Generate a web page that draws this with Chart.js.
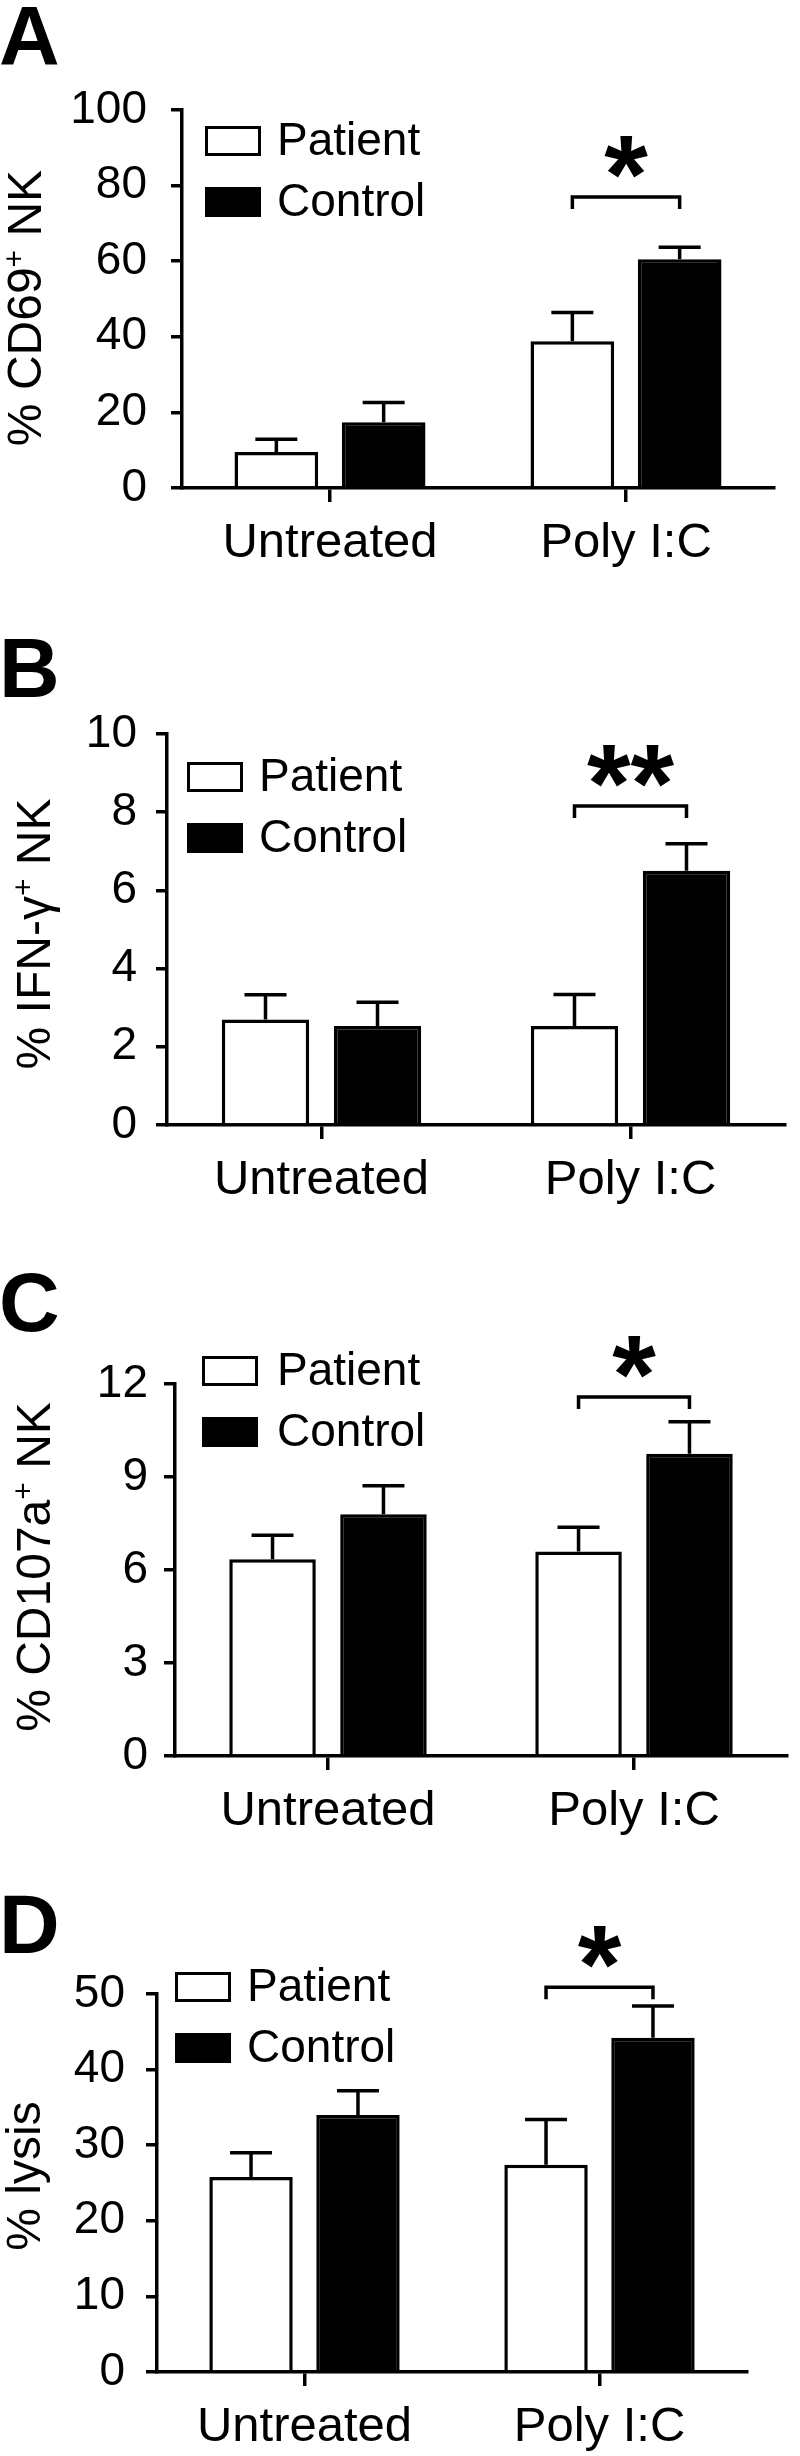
<!DOCTYPE html>
<html>
<head>
<meta charset="utf-8">
<script src="https://cdn.jsdelivr.net/npm/chart.js@4.4.1/dist/chart.umd.min.js"></script>
<style>
  html, body { margin: 0; padding: 0; background: #fff; }
  body { width: 800px; height: 2456px; position: relative; overflow: hidden; }
  .panel { position: absolute; left: 0; width: 800px; }
</style>
</head>
<body>
<div class="panel" style="top:0"><canvas id="chartA" width="800" height="660"></canvas></div>
<div class="panel" style="top:610px"><canvas id="chartB" width="800" height="660"></canvas></div>
<div class="panel" style="top:1220px"><canvas id="chartC" width="800" height="660"></canvas></div>
<div class="panel" style="top:1830px"><canvas id="chartD" width="800" height="626"></canvas></div>
<script>
// data (mean, upper SEM)
const categories = ["Untreated", "Poly I:C"];
const seriesNames = ["Patient", "Control"];

const cd69Patient = [9.5, 38.8];
const cd69PatientSem = [3.4, 7.6];
const cd69Control = [17.4, 60.5];
const cd69ControlSem = [5.2, 3.2];
const cd69Ticks = [0, 20, 40, 60, 80, 100];
const cd69Sig = ["", "*"];
const cd69SigLevel = [0, 77];

const ifngPatient = [2.7, 2.53];
const ifngPatientSem = [0.63, 0.81];
const ifngControl = [2.53, 6.5];
const ifngControlSem = [0.61, 0.69];
const ifngTicks = [0, 2, 4, 6, 8, 10];
const ifngSig = ["", "**"];
const ifngSigLevel = [0, 8.16];

const cd107Patient = [6.35, 6.6];
const cd107PatientSem = [0.77, 0.78];
const cd107Control = [7.8, 9.75];
const cd107ControlSem = [0.92, 1.03];
const cd107Ticks = [0, 3, 6, 9, 12];
const cd107Sig = ["", "*"];
const cd107SigLevel = [0, 11.58];

const lysisPatient = [25.8, 27.4];
const lysisPatientSem = [3.2, 6.0];
const lysisControl = [34.0, 44.2];
const lysisControlSem = [3.2, 4.2];
const lysisTicks = [0, 10, 20, 30, 40, 50];
const lysisSig = ["", "*"];
const lysisSigLevel = [0, 50.9];

const FONT = "'Liberation Sans', Arial, Helvetica, sans-serif";

// layout of each panel, page coordinates
const panels = [
  { id: "chartA", letter: "A", top: 0, height: 660, axisX: 182, yTop: 110, zero: 488, right: 774, tickPad: 24,
    letterBase: 65, titleX: 41, titleMid: 308, title: "% CD69^+ NK",
    legendX: 205, legendY: 141, legendTextX: 277,
    patient: cd69Patient, patientSem: cd69PatientSem, control: cd69Control, controlSem: cd69ControlSem,
    ticks: cd69Ticks, sig: cd69Sig, sigLevel: cd69SigLevel },
  { id: "chartB", letter: "B", top: 610, height: 660, axisX: 167, yTop: 734, zero: 1125, right: 785, tickPad: 19,
    letterBase: 697, titleX: 50, titleMid: 934, title: "% IFN-\u03b3^+ NK",
    legendX: 187, legendY: 777, legendTextX: 259,
    patient: ifngPatient, patientSem: ifngPatientSem, control: ifngControl, controlSem: ifngControlSem,
    ticks: ifngTicks, sig: ifngSig, sigLevel: ifngSigLevel },
  { id: "chartC", letter: "C", top: 1220, height: 660, axisX: 175, yTop: 1384, zero: 1756, right: 787, tickPad: 16,
    letterBase: 1331, titleX: 50, titleMid: 1567, title: "% CD107a^+ NK",
    legendX: 202, legendY: 1371, legendTextX: 277,
    patient: cd107Patient, patientSem: cd107PatientSem, control: cd107Control, controlSem: cd107ControlSem,
    ticks: cd107Ticks, sig: cd107Sig, sigLevel: cd107SigLevel },
  { id: "chartD", letter: "D", top: 1830, height: 626, axisX: 157, yTop: 1994, zero: 2372, right: 747, tickPad: 21,
    letterBase: 1953, titleX: 40, titleMid: 2176, title: "% lysis",
    legendX: 175, legendY: 1987, legendTextX: 247,
    patient: lysisPatient, patientSem: lysisPatientSem, control: lysisControl, controlSem: lysisControlSem,
    ticks: lysisTicks, sig: lysisSig, sigLevel: lysisSigLevel }
];

const Y_W = 130;

// error bars, significance brackets, legend, titles
const extras = {
  id: "extras",
  afterDatasetsDraw(chart) {
    const p = chart.options.plugins.extras.panel;
    const ctx = chart.ctx;
    const y = chart.scales.y;
    const sems = [p.patientSem, p.controlSem];
    ctx.save();
    ctx.strokeStyle = "#000";
    ctx.lineWidth = 3.5;
    chart.data.datasets.forEach((ds, i) => {
      chart.getDatasetMeta(i).data.forEach((bar, k) => {
        const yv = bar.y, ye = y.getPixelForValue(ds.data[k] + sems[i][k]);
        ctx.beginPath();
        ctx.moveTo(bar.x, yv); ctx.lineTo(bar.x, ye);
        ctx.moveTo(bar.x - 21, ye); ctx.lineTo(bar.x + 21, ye);
        ctx.stroke();
      });
    });

    const m0 = chart.getDatasetMeta(0), m1 = chart.getDatasetMeta(1);
    p.sig.forEach((mark, k) => {
      if (!mark) return;
      const x1 = m0.data[k].x, x2 = m1.data[k].x;
      const by = y.getPixelForValue(p.sigLevel[k]);
      ctx.beginPath();
      ctx.moveTo(x1, by + 12); ctx.lineTo(x1, by); ctx.lineTo(x2, by); ctx.lineTo(x2, by + 12);
      ctx.stroke();
      ctx.font = "bold 112px " + FONT;
      ctx.fillStyle = "#000";
      ctx.textAlign = "center";
      ctx.textBaseline = "alphabetic";
      const mt = ctx.measureText(mark);
      ctx.fillText(mark, (x1 + x2) / 2, by - 19 - mt.actualBoundingBoxDescent);
    });
    ctx.restore();
  },
  afterDraw(chart) {
    const p = chart.options.plugins.extras.panel;
    const ctx = chart.ctx;
    ctx.save();
    ctx.fillStyle = "#000";
    ctx.strokeStyle = "#000";

    // panel letter
    ctx.font = "bold 84px " + FONT;
    ctx.textAlign = "left";
    ctx.textBaseline = "alphabetic";
    ctx.fillText(p.letter, -1, p.letterBase - p.top);

    // legend
    ctx.lineWidth = 3;
    chart.data.datasets.forEach((ds, i) => {
      const cy = p.legendY - p.top + i * 61;
      ctx.fillStyle = ds.backgroundColor;
      ctx.fillRect(p.legendX, cy - 15, 56, 30);
      ctx.strokeRect(p.legendX + 1.5, cy - 13.5, 53, 27);
      ctx.fillStyle = "#000";
      ctx.font = "46px " + FONT;
      ctx.textBaseline = "middle";
      ctx.fillText(ds.label, p.legendTextX, cy + 1);
    });

    // y title with superscript
    const parts = p.title.split("^");
    const pre = parts[0], sup = parts[1] ? parts[1][0] : "", post = parts[1] ? parts[1].slice(1) : "";
    ctx.translate(p.titleX, p.titleMid - p.top);
    ctx.rotate(-Math.PI / 2);
    ctx.textBaseline = "alphabetic";
    ctx.font = "48px " + FONT;
    const w1 = ctx.measureText(pre).width, w3 = ctx.measureText(post).width;
    ctx.font = "30px " + FONT;
    const w2 = ctx.measureText(sup).width;
    let x = -(w1 + w2 + w3) / 2;
    ctx.font = "48px " + FONT;
    ctx.fillText(pre, x, 0);
    x += w1;
    ctx.font = "30px " + FONT;
    ctx.fillText(sup, x, -17);
    x += w2;
    ctx.font = "48px " + FONT;
    ctx.fillText(post, x, 0);
    ctx.restore();
  }
};

panels.forEach(p => {
  const ctx = document.getElementById(p.id).getContext("2d");
  const xH = p.height - (p.zero - p.top);
  new Chart(ctx, {
    type: "bar",
    data: {
      labels: categories,
      datasets: [
        { label: seriesNames[0], data: p.patient, backgroundColor: "#fff", borderColor: "#000", borderWidth: 3.5 },
        { label: seriesNames[1], data: p.control, backgroundColor: "#000", borderColor: "#000", borderWidth: 3.5 }
      ]
    },
    options: {
      responsive: false,
      animation: false,
      datasets: { bar: { categoryPercentage: 0.725, barPercentage: 0.78 } },
      layout: {
        padding: { left: p.axisX - Y_W, right: 800 - p.right, top: p.yTop - p.top, bottom: 0 }
      },
      scales: {
        x: {
          z: 1,
          afterFit: s => { s.height = xH; },
          grid: { display: true, drawOnChartArea: false, drawTicks: true, tickLength: 14, offset: false, color: "#000", lineWidth: 3.5 },
          border: { display: true, color: "#000", width: 3.5 },
          ticks: { color: "#000", padding: 12, font: { family: FONT, size: 49 } }
        },
        y: {
          z: 1,
          min: p.ticks[0],
          max: p.ticks[p.ticks.length - 1],
          afterFit: s => { s.width = Y_W; },
          grid: { display: true, drawOnChartArea: false, drawTicks: true, tickLength: 11, color: "#000", lineWidth: 3.5 },
          border: { display: true, color: "#000", width: 3.5 },
          ticks: { stepSize: p.ticks[1] - p.ticks[0], autoSkip: false, color: "#000", padding: p.tickPad, font: { family: FONT, size: 46 } }
        }
      },
      plugins: {
        legend: { display: false },
        tooltip: { enabled: false },
        extras: { panel: p }
      }
    },
    plugins: [extras]
  });
});
</script>
</body>
</html>
